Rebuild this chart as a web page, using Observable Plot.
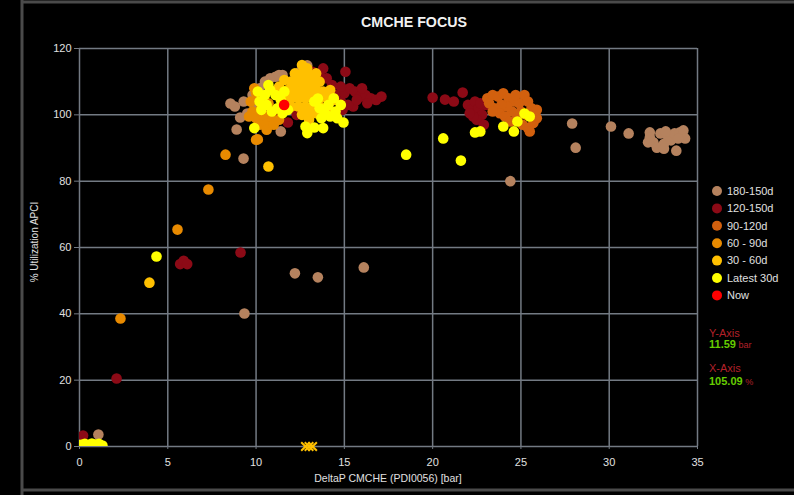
<!DOCTYPE html>
<html><head><meta charset="utf-8">
<script src="https://cdn.jsdelivr.net/npm/d3@7"></script>
<script src="https://cdn.jsdelivr.net/npm/@observablehq/plot@0.6"></script>
<style>
html,body{margin:0;padding:0;background:#000;overflow:hidden;}
svg{display:block;}
</style>
</head><body><div id="chart"></div>
<script>
const titleText = "CMCHE FOCUS";
const xLabel = "DeltaP CMCHE (PDI0056) [bar]";
const yLabel = "% Utilization APCI";
const xTicks = [0, 5, 10, 15, 20, 25, 30, 35];
const yTicks = [0, 20, 40, 60, 80, 100, 120];

const seriesNames = ["180-150d", "120-150d", "90-120d", "60 - 90d", "30 - 60d", "Latest 30d", "Now"];
const seriesColors = ["#b5825e", "#8c0a16", "#d2600e", "#e88a00", "#ffc000", "#ffff00", "#ff0000"];

const s180_150 = [
  [8.8,102.5],[9.1,99.2],[8.9,95.6],[9.5,100.4],[9.3,104],[9.8,106],[10.2,108],[10.5,110],
  [11.1,111.5],[11.5,112],[12.0,110],[12.9,114.9],[12.5,113],[11.4,95],[10.4,98],[9.9,103],
  [10.6,96.5],[8.55,103.4],[10.8,111],[11.3,112],
  [9.29,86.8],[12.2,52.2],[13.5,51],[16.1,54],[9.34,40.1],[24.4,80],[27.9,97.4],[28.1,90.1],
  [30.1,96.5],[31.1,94.4],[1.07,3.6],
  [32.3,94.7],[32.2,91.7],[32.5,91.7],[32.9,94.4],[33.1,91.3],[33.3,93.8],[33.5,92.3],[33.7,94.4],
  [34.0,94.7],[34.2,95.3],[34.3,92.9],[33.9,92.9],[32.7,90.1],[33.1,89.8],[33.8,89.2],[32.3,93.2],[33.2,95]
];
const s120_150 = [
  [2.1,20.5],[5.7,55],[5.9,56],[6.1,55],[9.12,58.5],[0.2,3.3],[15.06,113],
  [14.8,104],[15.0,106.5],[15.3,108],[15.6,107],[15.9,105.5],[16.2,106],[16.5,105],[16.8,104.5],
  [17.1,105.5],[15.5,102.5],[15.2,103],[16.0,108],[16.3,103.5],[14.9,101.5],[15.7,104.5],
  [13.2,113],[13.6,112],[14.0,111],[14.3,109],[14.5,106],[14.2,104],[14.6,101],[13.8,114],[14.8,108.5],
  [11.8,97.7],[11.2,99],[12.3,100],[10.6,101],
  [20.0,105.2],[20.7,104.6],[21.2,104],[21.7,106.7],[22.0,103],[22.2,101.5],[22.4,104],[22.6,102],
  [22.8,100],[22.5,98.5],[22.9,97],[22.3,99.5],[23.0,103],[22.1,100.5],[22.7,103.5]
];
const s90_120 = [
  [23.1,105],[23.4,106],[23.7,105.5],[24.0,106.5],[24.3,105],[24.6,104],[24.9,103.5],[25.2,106],
  [25.4,104],[25.6,102],[25.8,100.5],[25.9,99],[25.7,97.5],[25.4,96],[25.1,97],[24.8,99.5],
  [24.5,101],[24.2,102.5],[23.9,103],[23.5,102],[23.2,103.5],[23.8,100.5],[24.1,99.5],[24.4,98],
  [25.0,101],[25.3,100],[25.5,95],[25.9,101.5],[24.7,106],[23.4,101]
];
const s60_90 = [
  [8.27,88],[10.0,92.5],[7.3,77.5],[5.55,65.4],[2.32,38.6],[10.1,92.6],
  [9.7,104],[9.8,101],[10.0,99],[10.2,97],[10.5,98],[10.3,102.5],[10.0,106.5],[9.9,108],
  [10.6,95.5],[10.8,99.5],[11.0,97],[10.4,100],[9.6,99.5],[11.3,98.5],[10.7,103.5]
];
const s30_60 = [
  [12.6,115],[12.9,114],
  [12.2,112.5],[12.6,112.5],[13.0,112],[13.4,112.5],
  [11.6,110.5],[12.0,110],[12.4,110],[12.8,110],[13.2,110],[13.6,110],[11.3,108.5],
  [11.4,107],[11.8,107.5],[12.2,107.5],[12.6,107.5],[13.0,107.5],[13.4,107.5],[13.8,107],[14.2,107.5],
  [11.6,105],[12.0,105],[12.4,105],[12.8,105],[13.2,105],[13.6,105],[14.0,105],[14.4,104.5],
  [12.0,102.5],[12.4,102.5],[12.8,102.5],[13.2,102.5],[13.6,102.5],[14.0,102],
  [12.6,100],[13.0,100],[13.4,100.5],[13.0,98.5],
  [3.96,49.4],[10.7,84.4]
];
const sLatest = [
  [4.36,57.3],[18.5,88],[20.6,92.9],[21.6,86.2],[22.4,94.7],[22.7,95],[24.0,96.5],[24.6,95],
  [24.8,98],[25.2,100.4],[25.5,99.5],[9.9,96],[14.95,97.7],[13.3,96.2],[13.8,96],[12.9,94.5],[12.8,96.5],
  [10.2,104],[10.5,106],[10.8,107.5],[11.1,106],[11.4,104.5],[10.6,103],[10.9,101],[11.2,102],
  [10.3,101.5],[11.6,107],[11.8,101.5],[10.1,107],[11.5,100.5],[10.7,109],
  [13.3,104],[13.6,102],[13.9,100.5],[14.2,99.5],[14.5,101],[14.8,103],[14.4,105],[14.1,103],
  [13.7,99],[14.6,99],[13.5,104.9],
  [0.1,0.5],[0.3,0.8],[0.5,0.4],[0.7,0.9],[0.9,0.6],[1.1,0.8],[1.3,0.3],[0.2,0]
];
const sNow = [[11.59,103]];
const zeroMarks = [[12.8,0],[13.0,0],[13.2,0]];

const seriesData = [s180_150, s120_150, s90_120, s60_90, s30_60, sLatest, sNow];
const points = [];
seriesData.forEach((arr, i) => arr.forEach(([x, y]) => points.push({x, y, s: seriesNames[i]})));

const font = "'Liberation Sans', Arial, sans-serif";

const svg = Plot.plot({
  width: 794, height: 495,
  marginLeft: 79, marginRight: 97, marginTop: 48, marginBottom: 49,
  style: {background: "#000", color: "#e0e0e0", fontFamily: font, fontSize: "11px", overflow: "visible"},
  x: {domain: [0, 35], label: null},
  y: {domain: [0, 120], label: null},
  color: {domain: seriesNames, range: seriesColors},
  marks: [
    Plot.gridX(xTicks, {stroke: "#737a83", strokeOpacity: 1, strokeWidth: 1.5}),
    Plot.gridY(yTicks, {stroke: "#737a83", strokeOpacity: 1, strokeWidth: 1.5}),
    Plot.axisX(xTicks, {tickSize: 3, tickPadding: 9, stroke: "#737a83", fill: "#e0e0e0", label: null}),
    Plot.axisY(yTicks, {tickSize: 5, tickPadding: 3, stroke: "#737a83", fill: "#e0e0e0", label: null}),
    Plot.dot(points, {x: "x", y: "y", fill: "s", r: 5.3, clip: true}),
    Plot.dot(zeroMarks, {x: d => d[0], y: d => d[1], symbol: "times", stroke: "#ffc000", strokeWidth: 2, r: 4})
  ]
});

const g = d3.select(svg);
// panel border
g.append("line").attr("x1", 22).attr("x2", 794).attr("y1", 2).attr("y2", 2).attr("stroke", "#4a4a4a").attr("stroke-width", 3);
g.append("line").attr("x1", 22).attr("x2", 794).attr("y1", 490).attr("y2", 490).attr("stroke", "#4a4a4a").attr("stroke-width", 3);
g.append("line").attr("x1", 22).attr("x2", 22).attr("y1", 0).attr("y2", 495).attr("stroke", "#4a4a4a").attr("stroke-width", 3);

g.append("text").text(titleText).attr("x", 414).attr("y", 27).attr("text-anchor", "middle")
  .attr("fill", "#f2f2f2").attr("font-weight", "bold").attr("font-size", 14).attr("font-family", font)
  .attr("textLength", 106).attr("lengthAdjust", "spacingAndGlyphs");

g.append("text").text(xLabel).attr("x", 388).attr("y", 482).attr("text-anchor", "middle")
  .attr("fill", "#e0e0e0").attr("font-size", 10.5).attr("font-family", font);

g.append("text").text(yLabel).attr("transform", "translate(38,242) rotate(-90)").attr("text-anchor", "middle")
  .attr("fill", "#e0e0e0").attr("font-size", 10).attr("font-family", font);

// legend
const leg = g.append("g").attr("text-anchor", "start");
seriesNames.forEach((name, i) => {
  const cy = 191 + i * 17.4;
  leg.append("circle").attr("cx", 717).attr("cy", cy).attr("r", 5).attr("fill", seriesColors[i]);
  leg.append("text").text(name).attr("x", 727).attr("y", cy).attr("dy", "0.35em").attr("text-anchor", "start")
    .attr("fill", "#e0e0e0").attr("font-size", 11).attr("font-family", font);
});

// readouts
const red = "#b3202a", green = "#66cc00";
const rd = g.append("g").attr("text-anchor", "start").attr("font-family", font);
rd.append("text").text("Y-Axis").attr("x", 709).attr("y", 337).attr("fill", red).attr("font-size", 11);
const t1 = rd.append("text").attr("x", 709).attr("y", 348);
t1.append("tspan").text("11.59").attr("fill", green).attr("font-size", 11).attr("font-weight", "bold");
t1.append("tspan").text(" bar").attr("fill", red).attr("font-size", 9);
rd.append("text").text("X-Axis").attr("x", 709).attr("y", 372).attr("fill", red).attr("font-size", 11);
const t2 = rd.append("text").attr("x", 709).attr("y", 385);
t2.append("tspan").text("105.09").attr("fill", green).attr("font-size", 11).attr("font-weight", "bold");
t2.append("tspan").text(" %").attr("fill", red).attr("font-size", 9);

document.getElementById("chart").appendChild(svg);
</script>
</body></html>
